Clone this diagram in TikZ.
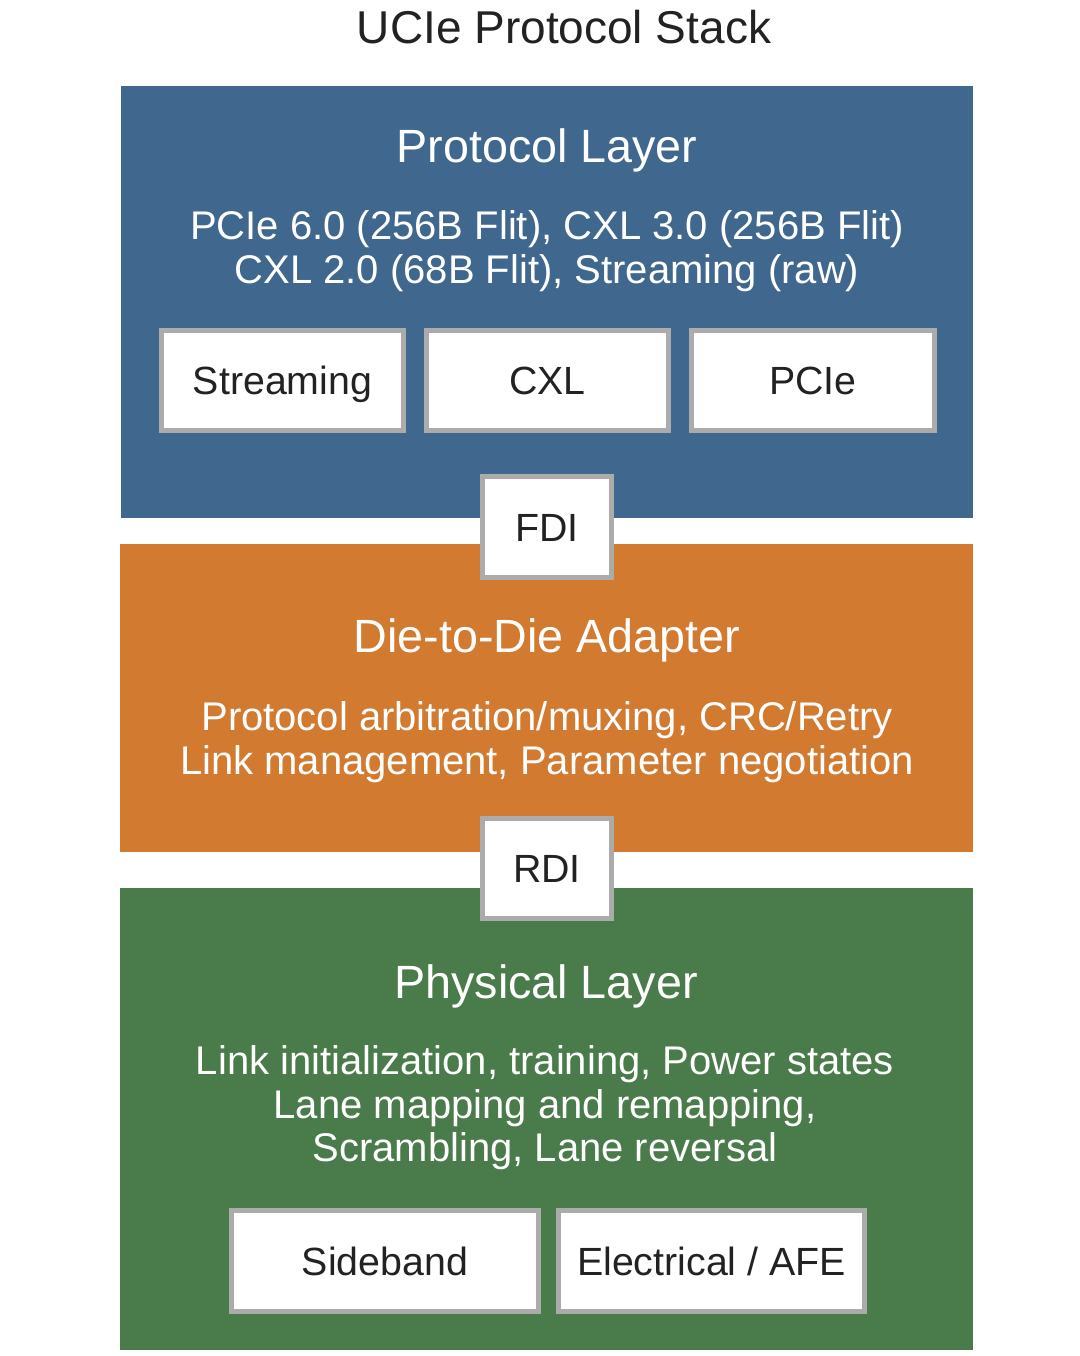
\documentclass[tikz,border=0pt]{standalone}
\usepackage{fontspec}
\setmainfont{Liberation Sans}
\definecolor{protoblue}{HTML}{40678D}
\definecolor{d2dorange}{HTML}{D27A30}
\definecolor{phygreen}{HTML}{4A7B4A}
\definecolor{boxgray}{HTML}{ABABAB}
\definecolor{inktext}{HTML}{222222}
\begin{document}
\begin{tikzpicture}[x=0.75pt,y=-0.75pt,
  layer/.style={fill=#1,draw=none,inner sep=0pt,outer sep=0pt},
  subbox/.style={fill=white,draw=boxgray,line width=3.4pt,inner sep=0pt,
    minimum height={100*0.75pt},text=inktext,text height=21.5pt,text depth=0pt,
    font=\fontsize{29.5}{34}\selectfont},
  heading/.style={anchor=base,text=white,inner sep=0pt,font=\fontsize{35}{40}\selectfont},
  desc/.style={anchor=base,text=white,inner sep=0pt,font=\fontsize{30}{34}\selectfont}
]
\useasboundingbox (0,0) rectangle (1080,1356);
\fill[white] (0,0) rectangle (1080,1356);

% title
\node[anchor=base,inner sep=0pt,text=inktext,font=\fontsize{34.5}{40}\selectfont] (title) at (564,43) {UCIe Protocol Stack};

% layers
\node[layer=protoblue,minimum width={852*0.75pt},minimum height={432*0.75pt}] (proto) at (547,302) {};
\node[layer=d2dorange,minimum width={853*0.75pt},minimum height={308*0.75pt}] (d2d) at (546.5,698) {};
\node[layer=phygreen,minimum width={853*0.75pt},minimum height={462*0.75pt}] (phy) at (546.5,1119) {};

% protocol layer
\node[heading] (protoT) at (547,162) {Protocol Layer};
\node[desc] (protoD1) at (547,239) {PCIe 6.0 (256B Flit), CXL 3.0 (256B Flit)};
\node[desc] (protoD2) at (547,283) {CXL 2.0 (68B Flit), Streaming (raw)};
\node[subbox,minimum width={242*0.75pt}] (streaming) at (282.5,380.5) {Streaming};
\node[subbox,minimum width={242*0.75pt}] (cxl) at (547.5,380.5) {CXL};
\node[subbox,minimum width={243*0.75pt}] (pcie) at (813,380.5) {PCIe};

% interfaces
\node[subbox,minimum width={129*0.75pt},minimum height={101*0.75pt}] (fdi) at (547,527) {FDI};

% die-to-die adapter
\node[heading] (d2dT) at (547,652) {Die-to-Die Adapter};
\node[desc] (d2dD1) at (547,730) {Protocol arbitration/muxing, CRC/Retry};
\node[desc] (d2dD2) at (547,774) {Link management, Parameter negotiation};

\node[subbox,minimum width={129*0.75pt},minimum height={100*0.75pt}] (rdi) at (547,868.5) {RDI};

% physical layer
\node[heading] (phyT) at (546,998) {Physical Layer};
\node[desc] (phyD1) at (545,1074) {Link initialization, training, Power states};
\node[desc] (phyD2) at (545,1118) {Lane mapping and remapping,};
\node[desc] (phyD3) at (545,1161) {Scrambling, Lane reversal};
\node[subbox,minimum width={307*0.75pt},minimum height={101*0.75pt}] (sideband) at (385,1261) {Sideband};
\node[subbox,minimum width={306*0.75pt},minimum height={101*0.75pt}] (afe) at (711.5,1261) {Electrical / AFE};
\end{tikzpicture}
\end{document}
